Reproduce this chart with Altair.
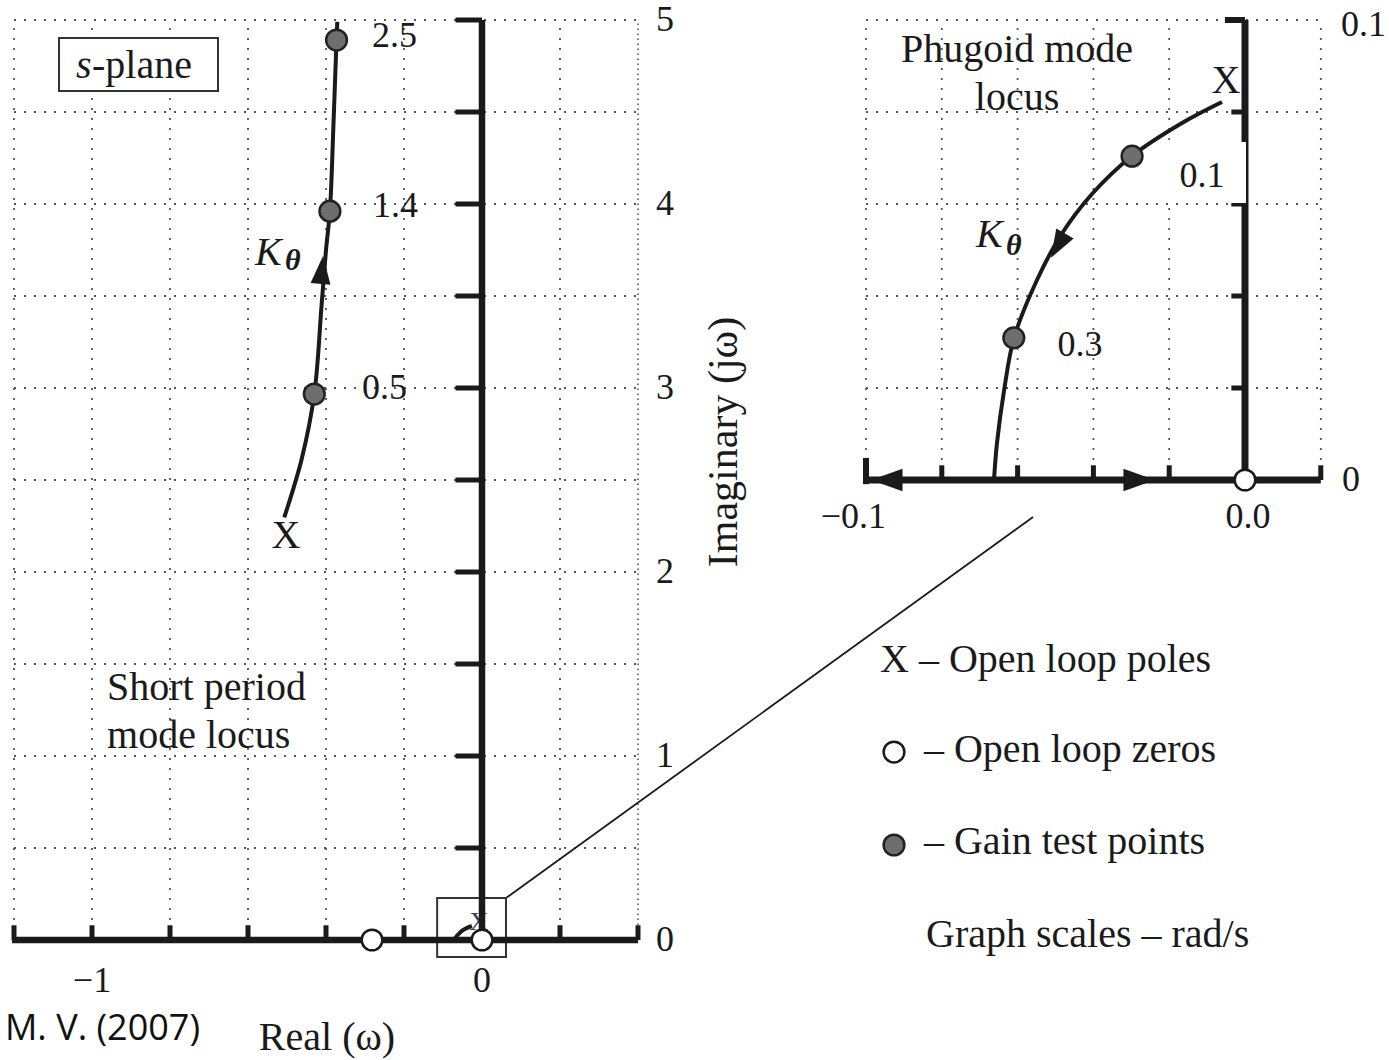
import altair as alt
import pandas as pd

# ---------------- data (rad/s) ----------------
# Short period mode locus, main s-plane
sp_re = [-0.507, -0.462, -0.430, -0.411, -0.400, -0.390, -0.381, -0.373, -0.371]
sp_im = [2.297, 2.617, 2.967, 3.460, 3.750, 3.961, 4.425, 4.891, 4.990]
sp_gain_re = [-0.430, -0.390, -0.373]
sp_gain_im = [2.967, 3.961, 4.891]
sp_gain_lbl = ["0.5", "1.4", "2.5"]
main_zero_re = [-0.282, 0.0]
main_zero_im = [0.0, 0.0]
mini_re = [-0.069, -0.049, -0.026]
mini_im = [0.011, 0.054, 0.076]

# Phugoid mode locus, inset
ph_re = [-0.00607, -0.01662, -0.02982, -0.04037, -0.04855, -0.05488,
         -0.06095, -0.06359, -0.06544, -0.06623]
ph_im = [0.08217, 0.07761, 0.07043, 0.06217, 0.05326, 0.04348,
         0.03087, 0.01935, 0.00804, 0.0]
ph_gain_re = [-0.0298, -0.0610]
ph_gain_im = [0.0704, 0.0309]
ph_gain_lbl = ["0.1", "0.3"]
ph_zero_re = [0.0]
ph_zero_im = [0.0]

# axes / ticks / labels
main_grid_x = [-1.2, -1.0, -0.8, -0.6, -0.4, -0.2, 0.2]
main_edge_x = [0.4]
main_grid_y = [0.5, 1.0, 1.5, 2.0, 2.5, 3.0, 3.5, 4.0, 4.5, 5.0]
main_xticks = [-1.2, -1.0, -0.8, -0.6, -0.4, -0.2, 0.2, 0.4]
main_yticks = [0.5, 1.0, 1.5, 2.0, 2.5, 3.0, 3.5, 4.0, 4.5, 5.0]
main_xlabel_val = [-1.0, 0.0]
main_xlabel_txt = ["\u22121", "0"]
main_ylabel_val = [0, 1, 2, 3, 4, 5]
main_ylabel_txt = ["0", "1", "2", "3", "4", "5"]

inset_grid_x = [-0.1, -0.08, -0.06, -0.04, -0.02, 0.02]
inset_grid_y = [0.02, 0.04, 0.06, 0.08, 0.1]
inset_xticks = [-0.08, -0.06, -0.04, -0.02, 0.02]
inset_yticks = [0.02, 0.04, 0.06, 0.08]
inset_xlabel_txt = ["\u22120.1", "0.0"]
inset_ylabel_txt = ["0", "0.1"]

legend_txt = ["X \u2013 Open loop poles", "\u2013 Open loop zeros",
              "\u2013 Gain test points", "Graph scales \u2013 rad/s"]

# ---------------- scales ----------------
XM = alt.Scale(domain=[-1.235897, 2.325641], nice=False, zero=False)
YM = alt.Scale(domain=[-0.652174, 5.108696], nice=False, zero=False)
XI = alt.Scale(domain=[-0.328496, 0.037995], nice=False, zero=False)
YI = alt.Scale(domain=[-0.126087, 0.104348], nice=False, zero=False)

SERIF = "Liberation Serif"
INK = "#1a1a1a"
GRID = "#555555"
GAIN_FILL = "#6e6e6e"
PT_SIZE = 430
ARROW_UP = "M0,0L0.625,1.75L-0.625,1.75Z"


def xy(sx, sy, two=False):
    e = dict(x=alt.X("x:Q", scale=sx, axis=None),
             y=alt.Y("y:Q", scale=sy, axis=None))
    if two:
        e["x2"] = alt.X2("x2:Q")
        e["y2"] = alt.Y2("y2:Q")
    return e


def rules(rows, sx, sy, **mk):
    df = pd.DataFrame(rows, columns=["x", "y", "x2", "y2"])
    return alt.Chart(df).mark_rule(**mk).encode(**xy(sx, sy, True))


def texts(xs, ys, ts, sx, sy, **mk):
    df = pd.DataFrame({"x": xs, "y": ys, "t": ts})
    mk.setdefault("font", SERIF)
    mk.setdefault("color", INK)
    return alt.Chart(df).mark_text(**mk).encode(**xy(sx, sy), text="t:N")


def points(xs, ys, sx, sy, **mk):
    df = pd.DataFrame({"x": xs, "y": ys})
    return alt.Chart(df).mark_point(**mk).encode(**xy(sx, sy))


def curve(xs, ys, sx, sy, **mk):
    df = pd.DataFrame({"x": xs, "y": ys, "i": list(range(len(xs)))})
    return alt.Chart(df).mark_line(**mk).encode(**xy(sx, sy), order="i:Q")


dots = dict(color=GRID, strokeWidth=1.8, strokeDash=[2, 8])
gain_style = dict(shape="circle", size=PT_SIZE, filled=True, fill=GAIN_FILL,
                  stroke="#222222", strokeWidth=2.5, opacity=1)
zero_style = dict(shape="circle", size=PT_SIZE, filled=True, fill="white",
                  stroke=INK, strokeWidth=2.5, opacity=1)

# ---------------- main s-plane ----------------
main_layers = [
    rules([(g, 0, g, 5) for g in main_grid_x], XM, YM, **dots),
    rules([(g, 0, g, 5) for g in main_edge_x], XM, YM, color=GRID,
          strokeWidth=1.6, strokeDash=[1.6, 3.4]),
    rules([(-1.2, g, 0.4, g) for g in main_grid_y], XM, YM, **dots),
    texts([-0.0077], [0.0543], ["X"], XM, YM, fontSize=26, align="center",
          baseline="alphabetic", color="#333a55"),
    # connector to the inset
    rules([(0.0615, 0.228, 1.413, 2.299)], XM, YM, color=INK, strokeWidth=1.8),
    # small box around origin
    alt.Chart(pd.DataFrame({"x": [-0.115], "x2": [0.0615], "y": [-0.092], "y2": [0.228]}))
    .mark_rect(fillOpacity=0, stroke="#333333", strokeWidth=2)
    .encode(**xy(XM, YM, True)),
    # axes
    rules([(-1.205, 0, 0.4, 0), (0, 0, 0, 5)], XM, YM, color=INK, strokeWidth=6.5),
    rules([(t, 0, t, 0.08) for t in main_xticks], XM, YM, color=INK, strokeWidth=5),
    rules([(-0.068, t, 0, t) for t in main_yticks], XM, YM, color=INK, strokeWidth=5),
    curve(mini_re, mini_im, XM, YM, color=INK, strokeWidth=4, interpolate="catmull-rom"),
    # short-period locus
    curve(sp_re, sp_im, XM, YM, color=INK, strokeWidth=4, interpolate="catmull-rom"),
    points([-0.4077], [3.717], XM, YM, shape=ARROW_UP, size=1024, angle=5,
           filled=True, color=INK, opacity=1),
    points(sp_gain_re, sp_gain_im, XM, YM, **gain_style),
    points(main_zero_re, main_zero_im, XM, YM, **zero_style),
    # gain labels
    texts([-0.3077, -0.2795, -0.282], [2.94, 3.931, 4.853], sp_gain_lbl, XM, YM,
          fontSize=36, align="left", baseline="alphabetic"),
    # pole marker label
    texts([-0.5026], [2.1304], ["X"], XM, YM, fontSize=40, align="center",
          baseline="alphabetic"),
    # K theta
    texts([-0.582], [3.667], ["K"], XM, YM, fontSize=40, fontStyle="italic",
          align="left", baseline="alphabetic"),
    texts([-0.505], [3.64], ["\u03b8"], XM, YM, fontSize=30, fontStyle="italic",
          fontWeight="bold", align="left", baseline="alphabetic"),
    # tick labels
    texts(main_xlabel_val, [-0.283, -0.283], main_xlabel_txt, XM, YM, fontSize=36,
          align="center", baseline="alphabetic"),
    texts([0.4692] * 6, main_ylabel_val, main_ylabel_txt, XM, YM, fontSize=36,
          align="center", baseline="middle"),
    # axis titles
    texts([-0.3974], [-0.598], ["Real (\u03c9)"], XM, YM, fontSize=40,
          align="center", baseline="alphabetic"),
    texts([0.62], [2.7065], ["Imaginary (j\u03c9)"], XM, YM, fontSize=42, angle=270,
          align="center", baseline="middle"),
    # s-plane box
    alt.Chart(pd.DataFrame({"x": [-1.0846], "x2": [-0.6769], "y": [4.6141], "y2": [4.9022]}))
    .mark_rect(fill="white", stroke="#333333", strokeWidth=2)
    .encode(**xy(XM, YM, True)),
    texts([-1.041], [4.6848], ["s"], XM, YM, fontSize=40, fontStyle="italic",
          align="left", baseline="alphabetic"),
    texts([-1.0], [4.6848], ["-plane"], XM, YM, fontSize=40,
          align="left", baseline="alphabetic"),
    # mode label
    texts([-0.9615, -0.9615], [1.3043, 1.0435], ["Short period", "mode locus"], XM, YM,
          fontSize=40, align="left", baseline="alphabetic"),
    # legend
    texts([1.0205, 1.1333, 1.1333, 1.1385], [1.4565, 0.9674, 0.4674, -0.038],
          legend_txt, XM, YM, fontSize=40, align="left", baseline="alphabetic"),
    points([1.0564], [1.0217], XM, YM, **zero_style),
    points([1.0564], [0.5163], XM, YM, **gain_style),
    # source note
    texts([-1.2231], [-0.5435], ["M. V. (2007)"], XM, YM, font="Open Sans",
          fontSize=36, align="left", baseline="alphabetic", color="#111111"),
]
main = alt.layer(*main_layers)

# ---------------- phugoid inset ----------------
inset_layers = [
    rules([(g, 0, g, 0.1) for g in inset_grid_x], XI, YI, **dots),
    rules([(-0.1, g, 0.02, g) for g in inset_grid_y], XI, YI, **dots),
    rules([(-0.1, 0, 0.02, 0), (0, 0, 0, 0.1)], XI, YI, color=INK, strokeWidth=7),
    rules([(t, 0, t, 0.0032) for t in inset_xticks], XI, YI, color=INK, strokeWidth=5),
    rules([(-0.1, -0.0009, -0.1, 0.0048)], XI, YI, color=INK, strokeWidth=6),
    rules([(-0.0036, t, 0, t) for t in inset_yticks], XI, YI, color=INK, strokeWidth=5),
    rules([(-0.0053, 0.1, 0, 0.1)], XI, YI, color=INK, strokeWidth=6),
    # white patch behind the 0.1 label
    alt.Chart(pd.DataFrame({"x": [-0.02243], "x2": [0.00026], "y": [0.0602], "y2": [0.07348]}))
    .mark_rect(fill="white")
    .encode(**xy(XI, YI, True)),
    curve(ph_re, ph_im, XI, YI, color=INK, strokeWidth=4, interpolate="catmull-rom"),
    points([-0.0512], [0.0483], XI, YI, shape=ARROW_UP, size=1024, angle=210,
           filled=True, color=INK, opacity=1),
    points([-0.0987], [0.0], XI, YI, shape=ARROW_UP, size=1300, angle=270,
           filled=True, color=INK, opacity=1),
    points([-0.02375], [0.0], XI, YI, shape=ARROW_UP, size=1300, angle=90,
           filled=True, color=INK, opacity=1),
    points(ph_gain_re, ph_gain_im, XI, YI, **gain_style),
    points(ph_zero_re, ph_zero_im, XI, YI, **zero_style),
    texts([-0.01135, -0.04354], [0.0637, 0.02696], ph_gain_lbl, XI, YI, fontSize=36,
          align="center", baseline="alphabetic"),
    texts([-0.06016, -0.06016], [0.09087, 0.08043], ["Phugoid mode", "locus"], XI, YI,
          fontSize=40, align="center", baseline="alphabetic"),
    texts([-0.00501], [0.08413], ["X"], XI, YI, fontSize=40, align="center",
          baseline="alphabetic"),
    texts([-0.07098], [0.05065], ["K"], XI, YI, fontSize=40, fontStyle="italic",
          align="left", baseline="alphabetic"),
    texts([-0.06306], [0.0489], ["\u03b8"], XI, YI, fontSize=30, fontStyle="italic",
          fontWeight="bold", align="left", baseline="alphabetic"),
    texts([-0.09472], [-0.01043], [inset_xlabel_txt[0]], XI, YI, fontSize=36,
          align="right", baseline="alphabetic"),
    texts([0.0008], [-0.01043], [inset_xlabel_txt[1]], XI, YI, fontSize=36,
          align="center", baseline="alphabetic"),
    texts([0.02797], [0.0], [inset_ylabel_txt[0]], XI, YI, fontSize=36,
          align="center", baseline="middle"),
    texts([0.02533], [0.09652], [inset_ylabel_txt[1]], XI, YI, fontSize=36,
          align="left", baseline="alphabetic"),
]
inset = alt.layer(*inset_layers)

chart = (
    alt.layer(main, inset)
    .resolve_scale(x="independent", y="independent")
    .properties(width=1389, height=1060, padding=0,
                autosize=alt.AutoSizeParams(type="none"), background="white")
    .configure_view(strokeWidth=0)
)

chart.save("out.html", embed_options={"renderer": "svg", "actions": False})
